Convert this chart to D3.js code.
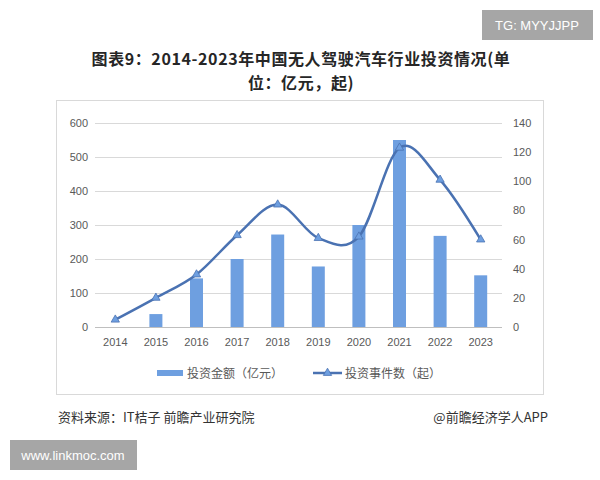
<!DOCTYPE html>
<html><head><meta charset="utf-8">
<script src="https://cdn.jsdelivr.net/npm/d3@7"></script>
<style>body{margin:0;background:#fff;}svg{display:block;}</style>
</head><body>
<svg id="c" width="600" height="480"></svg>
<script>
const years = ["2014","2015","2016","2017","2018","2019","2020","2021","2022","2023"];
const amounts = [0, 38, 143, 200, 272, 178, 300, 550, 268, 152];
const events = [5, 20, 36, 63, 84, 61, 62, 123, 101, 60];
const leftTicks = [0,100,200,300,400,500,600];
const rightTicks = [0,20,40,60,80,100,120,140];
const titleLines = ["图表9：2014-2023年中国无人驾驶汽车行业投资情况(单", "位：亿元，起)"];

const svg = d3.select("#c");
const font = "'Noto Sans CJK SC','Microsoft YaHei',sans-serif";
const barColor = "#6e9fe0", lineColor = "#4a72b2";

// watermark boxes
svg.append("rect").attr("x",482).attr("y",10).attr("width",111).attr("height",30).attr("fill","#a6a6a6");
svg.append("text").attr("x",537).attr("y",30).attr("text-anchor","middle").attr("fill","#fff")
  .attr("font-family","Liberation Sans, Arial").attr("font-size",13).text("TG: MYYJJPP");
svg.append("rect").attr("x",10).attr("y",440).attr("width",127).attr("height",30).attr("fill","#a6a6a6");
svg.append("text").attr("x",73).attr("y",460).attr("text-anchor","middle").attr("fill","#fff")
  .attr("font-family","Liberation Sans, Arial").attr("font-size",13).text("www.linkmoc.com");

// title (two separate lines)
svg.append("g").selectAll("text").data(titleLines).join("text")
  .attr("x",301).attr("y",(d,i)=>65+i*23.8)
  .attr("font-family",font).attr("font-weight","bold").attr("font-size",16).attr("letter-spacing",0.6)
  .attr("fill","#262626").attr("text-anchor","middle")
  .text(d=>d);

// chart frame
svg.append("rect").attr("x",56.5).attr("y",100.5).attr("width",487).attr("height",294).attr("fill","none").attr("stroke","#d9d9d9");

const x = d3.scaleBand().domain(years).range([95,501]).paddingInner(0).paddingOuter(0);
const yL = d3.scaleLinear().domain([0,600]).range([327,123]);
const yR = d3.scaleLinear().domain([0,140]).range([327,123]);

// grid
svg.append("g").selectAll("line").data(leftTicks).join("line")
  .attr("x1",95).attr("x2",502).attr("y1",d=>Math.round(yL(d))+0.5).attr("y2",d=>Math.round(yL(d))+0.5)
  .attr("stroke",d=>d===0?"#bfbfbf":"#d9d9d9");

// axes
const axL = svg.append("g").attr("transform","translate(88,0)").call(d3.axisLeft(yL).tickValues(leftTicks).tickSize(0).tickPadding(0));
const axR = svg.append("g").attr("transform","translate(513,0)").call(d3.axisRight(yR).tickValues(rightTicks).tickSize(0).tickPadding(0));
const axB = svg.append("g").attr("transform","translate(0,336)").call(d3.axisBottom(x).tickSize(0).tickPadding(0));
[axL,axR,axB].forEach(a=>{a.select(".domain").remove();a.selectAll("text").attr("font-family","'Liberation Sans',Arial,sans-serif").attr("font-size",11).attr("fill","#595959");});
axB.selectAll("text").attr("dy","0.95em");

// bars
const bw = 13;
svg.append("g").selectAll("rect").data(amounts).join("rect")
  .attr("x",(d,i)=>x(years[i])+x.bandwidth()/2-bw/2).attr("width",bw)
  .attr("y",d=>yL(d)).attr("height",d=>yL(0)-yL(d)).attr("fill",barColor);

// line
const line = d3.line().x((d,i)=>x(years[i])+x.bandwidth()/2).y(d=>yR(d)).curve(d3.curveCardinal.tension(0));
svg.append("path").datum(events).attr("d",line).attr("fill","none").attr("stroke",lineColor).attr("stroke-width",2.5);
const tri = d3.symbol().type(d3.symbolTriangle).size(30);
svg.append("g").selectAll("path").data(events).join("path")
  .attr("transform",(d,i)=>`translate(${x(years[i])+x.bandwidth()/2},${yR(d)})`)
  .attr("d",tri).attr("fill","#6e9fe0").attr("stroke",lineColor).attr("stroke-width",0.8);

// legend
svg.append("rect").attr("x",157).attr("y",370).attr("width",26).attr("height",6).attr("fill",barColor);
svg.append("text").attr("x",187).attr("y",378).attr("font-family",font).attr("font-size",12).attr("fill","#595959").text("投资金额（亿元）");
svg.append("line").attr("x1",313).attr("x2",342).attr("y1",373).attr("y2",373).attr("stroke",lineColor).attr("stroke-width",2.5);
svg.append("path").attr("transform","translate(327.5,373)").attr("d",tri).attr("fill","#6e9fe0").attr("stroke",lineColor).attr("stroke-width",0.8);
svg.append("text").attr("x",345).attr("y",378).attr("font-family",font).attr("font-size",12).attr("fill","#595959").text("投资事件数（起）");

// footer
svg.append("text").attr("x",58).attr("y",422).attr("font-family",font).attr("font-size",13).attr("fill","#333").text("资料来源：IT桔子 前瞻产业研究院");
svg.append("text").attr("x",548).attr("y",422).attr("text-anchor","end").attr("font-family",font).attr("font-size",13).attr("fill","#333").text("@前瞻经济学人APP");
</script>
</body></html>
